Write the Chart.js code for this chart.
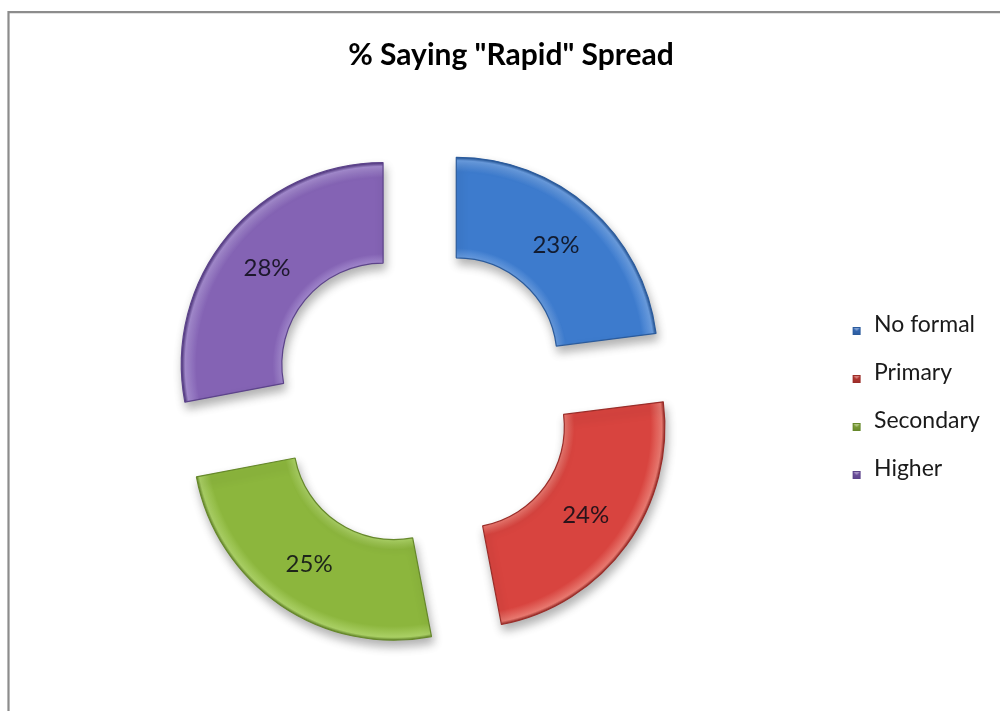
<!DOCTYPE html>
<html>
<head>
<meta charset="utf-8">
<script src="https://cdn.jsdelivr.net/npm/chart.js@4.4.1/dist/chart.umd.min.js"></script>
<style>
  html, body { margin: 0; padding: 0; background: #fff; overflow: hidden; }
  canvas { display: block; }
</style>
</head>
<body>
<canvas id="chart" width="1000" height="711"></canvas>
<script>
// ---- data ----
const chartTitle = '% Saying "Rapid" Spread';
const categories = ['No formal', 'Primary', 'Secondary', 'Higher'];
const values = [23, 24, 25, 28];

// ---- colours ----
const fillColors   = ['#3d7bcd', '#d8443f', '#8cb63d', '#8463b4'];
const lightColors  = ['#6a9de0', '#e8786f', '#aad065', '#a48bcf'];
const edgeColors   = ['#2b5b9c', '#9a2d29', '#66882b', '#5c438a'];
const swatchColors = ['#3a6fbf', '#c53b34', '#8cac40', '#7a5aaa'];

// ---- ring geometry ----
const outerRadius = 201;
const cutoutRatio = 0.5;
const explode = 51;            // pixels each slice is pulled out

// ---- legend geometry ----
const legendFont = { family: 'Lato', size: 23 };
const legendPad = 25;          // gap between legend rows (and column inset)
const legendWidth = 177;       // width of the legend column at the right
const legendTextLeft = 874;    // x where the legend text starts
const legendExtra = 10;        // Chart.js adds this to a vertical legend's width

const measure = document.createElement('canvas').getContext('2d');
measure.font = legendFont.size + 'px ' + legendFont.family;
const longestLabel = Math.max(...categories.map(t => measure.measureText(t).width));
const legendRight = legendTextLeft + longestLabel + legendExtra;
const swatchWidth = legendWidth - legendExtra - legendPad - legendFont.size / 2 - longestLabel;
const padRight = 1000 - legendRight;
const padLeft = 1022 - legendRight;   // keeps the title centred at x = 511

// small bevelled square, drawn at the right end of its slot
function makeSwatch(color, edge) {
  const c = document.createElement('canvas');
  c.width = Math.max(10, Math.round(swatchWidth));
  c.height = 24;
  const g = c.getContext('2d');
  const s = 8, x = c.width - 2 - s, y = 14;
  const grad = g.createLinearGradient(0, y, 0, y + s);
  grad.addColorStop(0, color);
  grad.addColorStop(1, edge);
  g.fillStyle = grad;
  g.fillRect(x, y, s, s);
  g.fillStyle = 'rgba(255,255,255,0.35)';
  g.beginPath();
  g.moveTo(x + 1, y + 1); g.lineTo(x + s - 1, y + 1); g.lineTo(x + s / 2, y + s / 2);
  g.closePath(); g.fill();
  g.strokeStyle = edge;
  g.lineWidth = 1;
  g.strokeRect(x + 0.5, y + 0.5, s - 1, s - 1);
  return c;
}
const swatches = swatchColors.map((c, i) => makeSwatch(c, edgeColors[i]));

// radial shading across the ring: light rims at the inner and outer edges
function ringFill(context) {
  const i = context.dataIndex;
  const area = context.chart.chartArea;
  if (!area || i === undefined) return fillColors[i] || fillColors[0];
  const cx = (area.left + area.right) / 2;
  const cy = (area.top + area.bottom) / 2;
  const g = context.chart.ctx.createRadialGradient(cx, cy, 0, cx, cy, outerRadius);
  const r0 = cutoutRatio;
  g.addColorStop(0, lightColors[i]);
  g.addColorStop(r0, lightColors[i]);
  g.addColorStop(r0 + 0.05, fillColors[i]);
  g.addColorStop(0.93, fillColors[i]);
  g.addColorStop(0.985, lightColors[i]);
  g.addColorStop(1, edgeColors[i]);
  return g;
}

// ---- plugins ----
const framePlugin = {
  id: 'frame',
  beforeDraw(chart) {
    const ctx = chart.ctx;
    ctx.save();
    ctx.fillStyle = '#ffffff';
    ctx.fillRect(0, 0, chart.width, chart.height);
    ctx.strokeStyle = '#8c8c8c';
    ctx.lineWidth = 2.2;
    ctx.beginPath();
    ctx.moveTo(8.5, chart.height);
    ctx.lineTo(8.5, 12.2);
    ctx.lineTo(chart.width, 12.2);
    ctx.stroke();
    ctx.restore();
  }
};

const sliceLabels = {
  id: 'sliceLabels',
  beforeDatasetDraw(chart) {
    const ctx = chart.ctx;
    ctx.save();
    ctx.shadowColor = 'rgba(0,0,0,0.3)';
    ctx.shadowBlur = 10;
    ctx.shadowOffsetX = 2;
    ctx.shadowOffsetY = 6;
  },
  afterDatasetDraw(chart, args) {
    const ctx = chart.ctx;
    ctx.restore();
    ctx.save();
    ctx.font = '24px Lato';
    ctx.fillStyle = 'rgba(10,10,20,0.85)';
    ctx.textAlign = 'center';
    ctx.textBaseline = 'middle';
    args.meta.data.forEach((arc, i) => {
      const p = arc.getProps(['x', 'y', 'startAngle', 'endAngle', 'innerRadius', 'outerRadius'], true);
      const mid = (p.startAngle + p.endAngle) / 2;
      const r = (p.innerRadius + p.outerRadius) / 2 + explode;
      ctx.fillText(values[i] + '%', p.x + Math.cos(mid) * r, p.y + Math.sin(mid) * r);
    });
    ctx.restore();
  }
};

// ---- chart ----
new Chart(document.getElementById('chart'), {
  type: 'doughnut',
  data: {
    labels: categories,
    datasets: [{
      data: values,
      backgroundColor: ringFill,
      borderColor: edgeColors,
      borderWidth: 1.2,
      offset: explode * 4      // arcs are drawn displaced by offset / 4
    }]
  },
  options: {
    responsive: false,
    animation: false,
    events: [],
    rotation: 0,
    radius: outerRadius,
    cutout: (cutoutRatio * 100) + '%',
    layout: { padding: { left: padLeft, right: padRight, top: 0, bottom: 10 } },
    plugins: {
      title: {
        display: true,
        text: chartTitle,
        color: '#000',
        font: { family: 'Lato', size: 30, weight: 'bold' },
        padding: { top: 37, bottom: 20 }
      },
      legend: {
        position: 'right',
        fullSize: false,
        labels: {
          usePointStyle: true,
          pointStyleWidth: swatchWidth,
          boxHeight: legendFont.size,
          padding: legendPad,
          color: '#1a1a1a',
          font: legendFont,
          generateLabels(chart) {
            const base = Chart.overrides.doughnut.plugins.legend.labels.generateLabels(chart);
            return base.map((item, i) => Object.assign(item, { pointStyle: swatches[i] }));
          }
        }
      },
      tooltip: { enabled: false }
    }
  },
  plugins: [framePlugin, sliceLabels]
});
</script>
</body>
</html>
